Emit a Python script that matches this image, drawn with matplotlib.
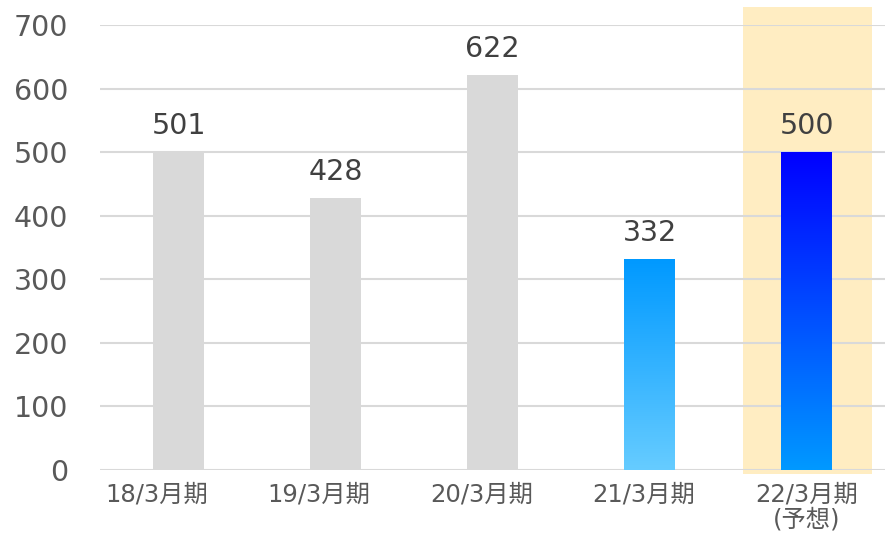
import numpy as np
import matplotlib
matplotlib.use("Agg")
import matplotlib.pyplot as plt
from matplotlib.colors import LinearSegmentedColormap
from matplotlib.patches import Rectangle

# wide digits from DejaVu, Japanese glyphs fall back to Noto CJK
plt.rcParams['font.family'] = ['DejaVu Sans', 'Noto Sans CJK JP']

# data
periods = ['18/3月期', '19/3月期', '20/3月期', '21/3月期', '22/3月期\n(予想)']
values = [501, 428, 622, 332, 500]
yticks = [0, 100, 200, 300, 400, 500, 600, 700]

# gradient colours (bottom -> top) for the last two bars
gradients = {3: ('#66CCFF', '#0099FF'), 4: ('#0099FF', '#0000FF')}

fig = plt.figure(figsize=(8.85, 5.49), dpi=100)
ax = fig.add_axes([0.113, 0.144, 0.887, 0.810])

x = np.arange(len(values))
w = 0.32
bars = ax.bar(x, values, width=w, color='#D9D9D9', zorder=2)

# gradient fill for the blue bars
for i, (c0, c1) in gradients.items():
    b = bars[i]
    b.set_facecolor('none')
    cmap = LinearSegmentedColormap.from_list('g%d' % i, [c0, c1])
    grad = np.linspace(0, 1, 256).reshape(-1, 1)
    ax.imshow(grad, cmap=cmap, origin='lower', aspect='auto', zorder=2,
              extent=[b.get_x(), b.get_x() + b.get_width(), 0, b.get_height()])

# forecast highlight
ax.add_patch(Rectangle((3.595, -6), 0.822, 734, facecolor='#FFEDC2',
                       edgecolor='none', zorder=0, clip_on=False))

# value labels
for xi, v in zip(x, values):
    ax.annotate(str(v), (xi, v), xytext=(0, 13), textcoords='offset points',
                ha='center', va='baseline', fontsize=20.5, color='#404040')

ax.set_xlim(-0.5, 4.5)
ax.set_ylim(0, 700)
ax.set_yticks(yticks)
ax.set_xticks(x - (4 - x) * 0.035)
ax.set_xticklabels(periods, fontsize=17.5, color='#595959', linespacing=1.05)
ax.tick_params(axis='y', labelsize=20.5, labelcolor='#595959', length=0, pad=23)
ax.tick_params(axis='x', length=0, pad=9)
ax.grid(axis='y', color='#D9D9D9', linewidth=1.5, zorder=1)
ax.set_axisbelow(True)
for s in ax.spines.values():
    s.set_visible(False)

fig.savefig('out.png', dpi=100)
